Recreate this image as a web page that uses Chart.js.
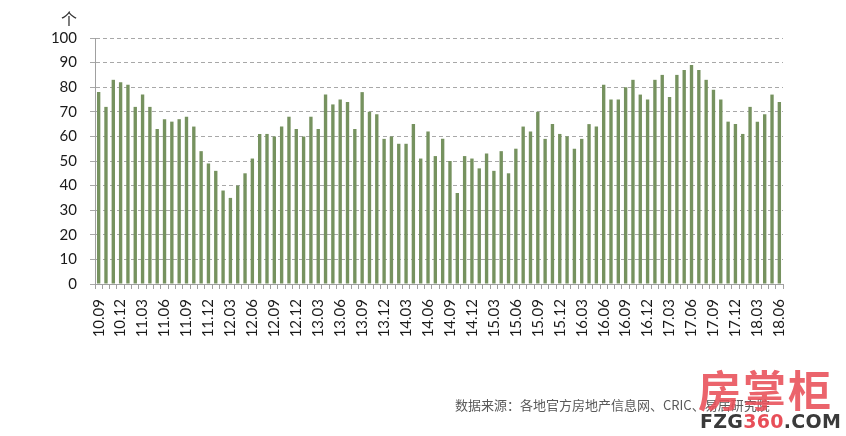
<!DOCTYPE html>
<html>
<head>
<meta charset="utf-8">
<script src="https://cdn.jsdelivr.net/npm/chart.js@4/dist/chart.umd.min.js"></script>
<style>
  html, body { margin: 0; padding: 0; background: #fff; }
  #wrap { position: relative; width: 846px; height: 436px; overflow: hidden; }
  #c { position: absolute; left: 0; top: 0; }
  .txt { position: absolute; white-space: nowrap; }
  #unit { left: 61px; top: 6px; font: 16px "Noto Sans CJK SC", sans-serif; color: #333; }
  #src { left: 455px; top: 395px; font: 13px "Noto Sans CJK SC", sans-serif; color: #595959; }
  #wm1 { left: 698px; top: 357px; font: bold 43px "Noto Sans CJK SC", sans-serif; color: rgba(232,78,88,0.88); letter-spacing: 2px; }
  #wm2 { left: 700px; top: 410px; font: bold 19px "DejaVu Sans", sans-serif; color: #3a3a3a; letter-spacing: 0.3px; }
  #wm2 span { color: #e84e58; }
</style>
</head>
<body>
<div id="wrap">
  <canvas id="c" width="846" height="436"></canvas>
  <div class="txt" id="unit">个</div>
  <div class="txt" id="src">数据来源：各地官方房地产信息网、CRIC、易居研究院</div>
  <div class="txt" id="wm1">房掌柜</div>
  <div class="txt" id="wm2">FZG<span>360</span>.COM</div>
</div>
<script>
const categories = [
  "10.09","10.10","10.11","10.12",
  "11.01","11.02","11.03","11.04","11.05","11.06","11.07","11.08","11.09","11.10","11.11","11.12",
  "12.01","12.02","12.03","12.04","12.05","12.06","12.07","12.08","12.09","12.10","12.11","12.12",
  "13.01","13.02","13.03","13.04","13.05","13.06","13.07","13.08","13.09","13.10","13.11","13.12",
  "14.01","14.02","14.03","14.04","14.05","14.06","14.07","14.08","14.09","14.10","14.11","14.12",
  "15.01","15.02","15.03","15.04","15.05","15.06","15.07","15.08","15.09","15.10","15.11","15.12",
  "16.01","16.02","16.03","16.04","16.05","16.06","16.07","16.08","16.09","16.10","16.11","16.12",
  "17.01","17.02","17.03","17.04","17.05","17.06","17.07","17.08","17.09","17.10","17.11","17.12",
  "18.01","18.02","18.03","18.04","18.05","18.06"
];
const values = [
  78,72,83,82,81,72,77,72,63,67,66,67,68,64,54,49,46,38,35,40,45,51,61,61,
  60,64,68,63,60,68,63,77,73,75,74,63,78,70,69,59,60,57,57,65,51,62,52,
  59,50,37,52,51,47,53,46,54,45,55,64,62,70,59,65,61,60,55,59,65,64,81,75,
  75,80,83,77,75,83,85,76,85,87,89,87,83,79,75,66,65,61,72,66,69,77,74
];
const shownTickLabels = [
  "10.09","10.12","11.03","11.06","11.09","11.12","12.03","12.06","12.09","12.12",
  "13.03","13.06","13.09","13.12","14.03","14.06","14.09","14.12","15.03","15.06",
  "15.09","15.12","16.03","16.06","16.09","16.12","17.03","17.06","17.09","17.12",
  "18.03","18.06"
];
const yTicks = [0,10,20,30,40,50,60,70,80,90,100];

const FONT = 'Lato, "Liberation Sans", sans-serif';

new Chart(document.getElementById('c'), {
  type: 'bar',
  data: {
    labels: categories,
    datasets: [{
      data: values,
      backgroundColor: '#76925f',
      borderWidth: 0,
      barPercentage: 0.46,
      categoryPercentage: 1.0
    }]
  },
  options: {
    responsive: false,
    animation: false,
    devicePixelRatio: 1,
    layout: { padding: { top: 38, right: 63, bottom: 0, left: 0 } },
    plugins: { legend: { display: false }, tooltip: { enabled: false } },
    scales: {
      x: {
        afterFit: s => { s.height = 152; },
        grid: { display: true, drawOnChartArea: false, drawTicks: true, tickLength: 5, color: '#a0a0a0', offset: true },
        border: { display: true, color: '#a0a0a0', width: 1 },
        ticks: {
          autoSkip: false,
          minRotation: 90,
          maxRotation: 90,
          padding: 10,
          color: '#1a1a1a',
          font: { family: FONT, size: 15 },
          callback: function(v, i) {
            const lab = categories[i];
            return shownTickLabels.includes(lab) ? lab : '';
          }
        }
      },
      y: {
        min: 0, max: 100,
        afterFit: s => { s.width = 95; },
        afterBuildTicks: s => { s.ticks = yTicks.map(v => ({ value: v })); },
        grid: { color: '#a8a8a8', lineWidth: 1, drawTicks: true, tickLength: 5 },
        border: { display: true, color: '#a0a0a0', width: 1, dash: [4, 3] },
        ticks: {
          padding: 13,
          color: '#1a1a1a',
          font: { family: FONT, size: 15 }
        }
      }
    }
  }
});
</script>
</body>
</html>
